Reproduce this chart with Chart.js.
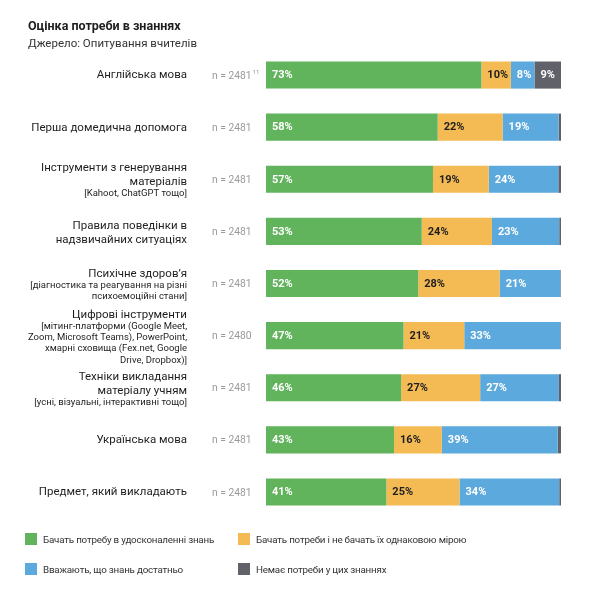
<!DOCTYPE html>
<html>
<head>
<meta charset="utf-8">
<script src="https://cdn.jsdelivr.net/npm/chart.js@4.4.1/dist/chart.umd.min.js"></script>
<style>
  html, body { margin: 0; padding: 0; background: #fff; }
  body { width: 592px; height: 600px; position: relative; overflow: hidden; font-family: Roboto, "Noto Sans", sans-serif; color: #1e1e1e; }
  #title { position: absolute; left: 28px; top: 18px; font-size: 12.5px; font-weight: 700; }
  #subtitle { position: absolute; left: 28px; top: 36px; font-size: 11.5px; color: #333; }
  #wrap { position: absolute; left: 0; top: 0; width: 592px; height: 600px; }
  #legend { position: absolute; left: 0; top: 0; width: 592px; height: 600px; pointer-events: none; }
  .li { position: absolute; font-size: 9.8px; letter-spacing: -0.2px; color: #333; display: flex; align-items: center; white-space: nowrap; }
  .sw { width: 12px; height: 12px; margin-right: 6px; display: inline-block; }
</style>
</head>
<body>
<div id="wrap"><canvas id="c" width="592" height="600"></canvas></div>
<div id="title">Оцінка потреби в знаннях</div>
<div id="subtitle">Джерело: Опитування вчителів</div>
<div id="legend"></div>
<script>
// ---- data ----
const categories = [
  ["Англійська мова"],
  ["Перша домедична допомога"],
  ["Інструменти з генерування", "матеріалів"],
  ["Правила поведінки в", "надзвичайних ситуаціях"],
  ["Психічне здоров’я"],
  ["Цифрові інструменти"],
  ["Техніки викладання", "матеріалу учням"],
  ["Українська мова"],
  ["Предмет, який викладають"]
];
const categoryNotes = [
  [],
  [],
  ["[Kahoot, ChatGPT тощо]"],
  [],
  ["[діагностика та реагування на різні", "психоемоційні стани]"],
  ["[мітинг-платформи (Google Meet,", "Zoom, Microsoft Teams), PowerPoint,", "хмарні сховища (Fex.net, Google", " Drive, Dropbox)]"],
  ["[усні, візуальні, інтерактивні тощо]"],
  [],
  []
];
const sampleSizes = ["n = 2481", "n = 2481", "n = 2481", "n = 2481", "n = 2481", "n = 2480", "n = 2481", "n = 2481", "n = 2481"];
const footnotes = ["11", "", "", "", "", "", "", "", ""];

const seriesNames = [
  "Бачать потребу в удосконаленні знань",
  "Бачать потреби і не бачать їх однаковою мірою",
  "Вважають, що знань достатньо",
  "Немає потреби у цих знаннях"
];
const seeNeed      = [73, 58.2, 56.6, 52.8, 51.6, 46.6, 45.8, 43.4, 40.8];
const mixed        = [10, 22.0, 18.9, 23.8, 27.6, 20.6, 26.8, 16.2, 24.8];
const enough       = [8, 19.0, 23.6, 22.8, 20.6, 32.6, 26.7, 39.3, 33.8];
const noNeed       = [9, 0.8, 0.9, 0.6, 0.2, 0.2, 0.7, 1.1, 0.6];

const colors = ["#61b35c", "#f4bb55", "#5ca9dd", "#606169"];
const labelColors = ["#ffffff", "#1e1e1e", "#ffffff", "#ffffff"];

// ---- legend (HTML) ----
const legendPos = [[25, 533], [238, 533], [25, 563], [238, 563]];
const legendEl = document.getElementById('legend');
seriesNames.forEach((name, i) => {
  const d = document.createElement('div');
  d.className = 'li';
  d.style.left = legendPos[i][0] + 'px';
  d.style.top = legendPos[i][1] + 'px';
  const sw = document.createElement('span');
  sw.className = 'sw';
  sw.style.background = colors[i];
  d.appendChild(sw);
  d.appendChild(document.createTextNode(name));
  legendEl.appendChild(d);
});

const FONT = 'Roboto, "Noto Sans", sans-serif';

const categoryLabelPlugin = {
  id: 'categoryLabels',
  afterDraw(chart) {
    const ctx = chart.ctx;
    const y = chart.scales.y;
    ctx.save();
    ctx.textBaseline = 'middle';
    categories.forEach((lines, i) => {
      const cy = y.getPixelForValue(i);
      const notes = categoryNotes[i];
      // relative line centres
      const items = [];
      let pos = 0;
      lines.forEach((l, k) => { if (k > 0) pos += 14; items.push({ t: l, y: pos, note: false }); });
      notes.forEach((l, k) => { pos += (k === 0 ? 11.5 : 11.3); items.push({ t: l, y: pos, note: true }); });
      const shift = cy + (items.length > 1 ? 2 : 0.5) - pos / 2;
      ctx.textAlign = 'right';
      ctx.fillStyle = '#1e1e1e';
      items.forEach(it => {
        ctx.font = (it.note ? '9.5px ' : '11.5px ') + FONT;
        ctx.fillText(it.t, 187, shift + it.y);
      });
      // n label
      ctx.textAlign = 'left';
      ctx.fillStyle = '#9a9a9a';
      ctx.font = '10.3px ' + FONT;
      ctx.fillText(sampleSizes[i], 212, cy + 1);
      if (footnotes[i]) {
        const w = ctx.measureText(sampleSizes[i]).width;
        ctx.font = '6px ' + FONT;
        ctx.fillText(footnotes[i], 212 + w + 1, cy - 3);
      }
    });
    ctx.restore();
  },
  afterDatasetsDraw(chart) {
    const ctx = chart.ctx;
    ctx.save();
    ctx.textBaseline = 'middle';
    ctx.textAlign = 'left';
    ctx.font = 'bold 11px ' + FONT;
    chart.data.datasets.forEach((ds, di) => {
      const meta = chart.getDatasetMeta(di);
      meta.data.forEach((el, j) => {
        const left = Math.min(el.x, el.base);
        const w = Math.abs(el.x - el.base);
        if (w < 14) return;
        ctx.fillStyle = labelColors[di];
        ctx.fillText(Math.round(ds.data[j]) + '%', left + 6, el.y + 0.5);
      });
    });
    ctx.restore();
  }
};

new Chart(document.getElementById('c'), {
  type: 'bar',
  data: {
    labels: categories.map(l => l.join(' ')),
    datasets: [seeNeed, mixed, enough, noNeed].map((d, i) => ({
      label: seriesNames[i],
      data: d,
      backgroundColor: colors[i],
      borderWidth: 0,
      barPercentage: 1,
      categoryPercentage: 0.52
    }))
  },
  options: {
    indexAxis: 'y',
    responsive: false,
    animation: false,
    layout: { padding: { left: 266, right: 31, top: 49, bottom: 82 } },
    scales: {
      x: { stacked: true, min: 0, max: 100, display: false },
      y: { stacked: true, display: false }
    },
    plugins: {
      legend: { display: false },
      tooltip: { enabled: false },
      title: { display: false }
    }
  },
  plugins: [categoryLabelPlugin]
});
</script>
</body>
</html>
